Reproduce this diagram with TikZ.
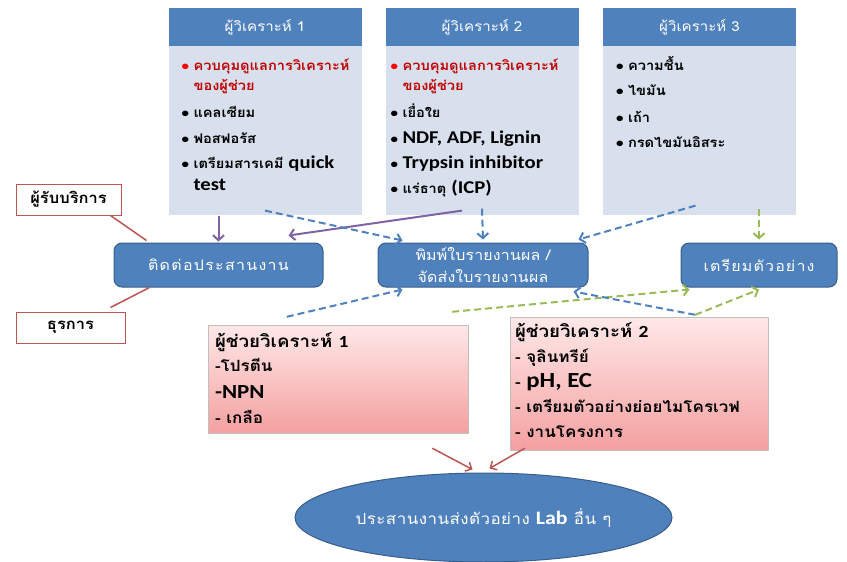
\documentclass[tikz,border=0pt]{standalone}
\usepackage{fontspec}
\setmainfont{Carlito}
\newfontfamily\en[FakeStretch=1.15]{Carlito}
\newfontfamily\thai[Script=Thai,FakeStretch=1.1]{Loma}
\usetikzlibrary{positioning,shapes.geometric,arrows.meta}

\definecolor{hdblue}{RGB}{79,129,189}
\definecolor{bodyblue}{RGB}{216,224,237}
\definecolor{edgeblue}{RGB}{56,93,138}
\definecolor{linkred}{RGB}{185,85,82}
\definecolor{linkpurple}{RGB}{128,100,162}
\definecolor{linkgreen}{RGB}{155,187,89}
\definecolor{darkred}{RGB}{192,0,0}
\definecolor{pinktop}{RGB}{255,232,232}
\definecolor{pinkbot}{RGB}{244,160,160}

\newcommand{\bul}[1][black]{\makebox[12pt][l]{\en\fontsize{13}{20}\selectfont\textcolor{#1}{\textbullet}}}
\newcommand{\lat}[1]{{\en\bfseries\fontsize{18}{20}\selectfont #1}}

\begin{document}
\begin{tikzpicture}[
            x=1pt, y=-1pt,
            head/.style={fill=hdblue, text=white, minimum width=193pt, minimum height=38pt,
              inner sep=0pt, font=\thai\fontsize{13.7}{15}\selectfont},
            body/.style={fill=bodyblue, minimum width=193pt, minimum height=169pt, inner sep=0pt},
            listtext/.style={anchor=north west, align=left, inner sep=0pt,
              font=\thai\bfseries\fontsize{13.3}{20}\selectfont},
            helpertext/.style={anchor=north west, align=left, inner sep=0pt,
              font=\thai\bfseries\fontsize{15.5}{25}\selectfont},
            task/.style={rounded corners=8pt, fill=hdblue, draw=edgeblue, line width=1pt,
              text=white, inner sep=0pt, font=\thai\fontsize{14.5}{22}\selectfont},
            role/.style={draw=linkred, line width=1pt, fill=white, inner sep=0pt,
              font=\thai\bfseries\fontsize{15}{15}\selectfont},
            helper/.style={draw=black!25, top color=pinktop, bottom color=pinkbot, inner sep=0pt},
            redline/.style={linkred, line width=1.5pt},
            solidarr/.style={-{Straight Barb[length=5pt,width=11pt]}, linkpurple, line width=2pt},
            bluedash/.style={-{Straight Barb[length=5pt,width=11pt]}, hdblue, line width=2pt,
              dash pattern=on 7pt off 4pt},
            greendash/.style={-{Straight Barb[length=5pt,width=11pt]}, linkgreen, line width=2pt,
              dash pattern=on 7pt off 4pt}
            ]
            \useasboundingbox (0,0) rectangle (847,562);
            % Analysts
            \node[head] (ana1h) at (265,27) {ผู้วิเคราะห์ 1};
            \node[body, below=0pt of ana1h] (ana1) {};
            \node[head] (ana2h) at (482,27) {ผู้วิเคราะห์ 2};
            \node[body, below=0pt of ana2h] (ana2) {};
            \node[head] (ana3h) at (699.5,27) {ผู้วิเคราะห์ 3};
            \node[body, below=0pt of ana3h] (ana3) {};
            \node[listtext] (list1) at ([xshift=13pt,yshift=-12pt]ana1.north west)
              {\bul[red]\textcolor{darkred}{ควบคุมดูแลการวิเคราะห์}\\[0pt]
               \hspace*{12pt}\textcolor{darkred}{ของผู้ช่วย}\\[7pt]
               \bul แคลเซียม\\[6pt]
               \bul ฟอสฟอรัส\\[5pt]
               \bul เตรียมสารเคมี \lat{quick}\\[2pt]
               \hspace*{12pt}\lat{test}};
            \node[listtext] (list2) at ([xshift=5pt,yshift=-12pt]ana2.north west)
              {\bul[red]\textcolor{darkred}{ควบคุมดูแลการวิเคราะห์}\\[0pt]
               \hspace*{12pt}\textcolor{darkred}{ของผู้ช่วย}\\[7pt]
               \bul เยื่อใย\\[6pt]
               \bul\lat{NDF, ADF, Lignin}\\[5pt]
               \bul\lat{Trypsin inhibitor}\\[5pt]
               \bul แร่ธาตุ \lat{(ICP)}};
            \node[listtext] (list3) at ([xshift=13pt,yshift=-10pt]ana3.north west)
              {\bul ความชื้น\\[5pt]
               \bul ไขมัน\\[7pt]
               \bul เถ้า\\[5pt]
               \bul กรดไขมันอิสระ};
            % Tasks
            \node[task, minimum width=209pt, minimum height=44pt] (contact) at (218.5,265)
              {\addfontfeature{LetterSpace=9}ติดต่อประสานงาน};
            \node[task, minimum width=210pt, minimum height=44pt, align=center] (report) at (483,265)
              {\addfontfeature{LetterSpace=1}พิมพ์ใบรายงานผล /\\
               \addfontfeature{LetterSpace=1}จัดส่งใบรายงานผล};
            \node[task, minimum width=156pt, minimum height=44pt] (prep) at (759,265)
              {\addfontfeature{LetterSpace=8}เตรียมตัวอย่าง};
            % Roles
            \node[role, minimum width=105pt, minimum height=31pt] (client) at (68.5,199.5) {ผู้รับบริการ};
            \node[role, minimum width=109pt, minimum height=31pt] (admin) at (70.5,327.5) {ธุรการ};
            % Assistants
            \node[helper, minimum width=260pt, minimum height=108pt] (assist1) at (338,379) {};
            \node[helper, minimum width=258pt, minimum height=133pt] (assist2) at (639,383.5) {};
            \node[helpertext] (list4) at ([xshift=7pt,yshift=-8pt]assist1.north west)
              {{\fontsize{17}{25}\selectfont ผู้ช่วยวิเคราะห์ {\en\bfseries 1}}\\[-1pt]
               -โปรตีน\\[2pt]
               {\en\bfseries\fontsize{20}{25}\selectfont -NPN}\\[0pt]
               - เกลือ};
            \node[helpertext] (list5) at ([xshift=5pt,yshift=-6pt]assist2.north west)
              {{\fontsize{17}{25}\selectfont ผู้ช่วยวิเคราะห์ {\en\bfseries 2}}\\[0pt]
               - จุลินทรีย์\\[0pt]
               - {\en\bfseries\fontsize{21.5}{25}\selectfont pH, EC}\\[0pt]
               - เตรียมตัวอย่างย่อยไมโครเวฟ\\[0pt]
               - งานโครงการ};
            % Other labs
            \node[ellipse, fill=hdblue, draw=edgeblue, line width=1pt, minimum width=377pt,
              minimum height=89pt, inner sep=0pt, text=white, font=\thai\fontsize{15.4}{18}\selectfont]
              (lab) at (483.5,517.5) {\addfontfeature{LetterSpace=3}ประสานงานส่งตัวอย่าง {\en\bfseries\fontsize{19}{20}\selectfont Lab} อื่น ๆ};
            % Connectors
            \draw[redline] ([xshift=-11pt]client.south east) -- ([xshift=33pt,yshift=2pt]contact.north west);
            \draw[redline] ([xshift=36pt]contact.south west) -- ([xshift=-15pt,yshift=4pt]admin.north east);
            \draw[solidarr] (contact.north |- ana1.south) -- ([yshift=1pt]contact.north);
            \draw[solidarr] ([xshift=-20pt,yshift=5pt]ana2.south) -- ([xshift=-35pt,yshift=7pt]contact.north east);
            \draw[bluedash] ([yshift=5pt]ana1.south) -- ([xshift=25pt,yshift=2pt]report.north west);
            \draw[bluedash] ([yshift=7pt]ana2.south) -- ([yshift=3pt]report.north);
            \draw[bluedash] ([xshift=-4pt,yshift=10pt]ana3.south) -- ([xshift=-10pt,yshift=3pt]report.north east);
            \draw[greendash] ([yshift=7pt]prep.north |- ana3.south) -- ([yshift=3pt]prep.north);
            \draw[bluedash] ([xshift=79pt,yshift=8pt]assist1.north west) -- ([xshift=25pt,yshift=-2pt]report.south west);
            \draw[greendash] ([xshift=-16pt,yshift=13pt]assist1.north east) -- ([xshift=9pt,yshift=-2pt]prep.south west);
            \coordinate (fork) at ([xshift=-73pt,yshift=2pt]assist2.north east);
            \draw[bluedash] (fork) -- ([xshift=-15pt,yshift=-4pt]report.south east);
            \draw[greendash] (fork) -- ([yshift=-2pt]prep.south);
            \draw[redline, -{Straight Barb[length=5pt,width=10pt]}] ([xshift=-36pt,yshift=-15pt]assist1.south east) -- ([xshift=-11pt,yshift=3pt]lab.north);
            \draw[redline, -{Straight Barb[length=5pt,width=10pt]}] ([xshift=15pt,yshift=2pt]assist2.south west) -- ([xshift=6pt,yshift=4pt]lab.north);
          \end{tikzpicture}
\end{document}
